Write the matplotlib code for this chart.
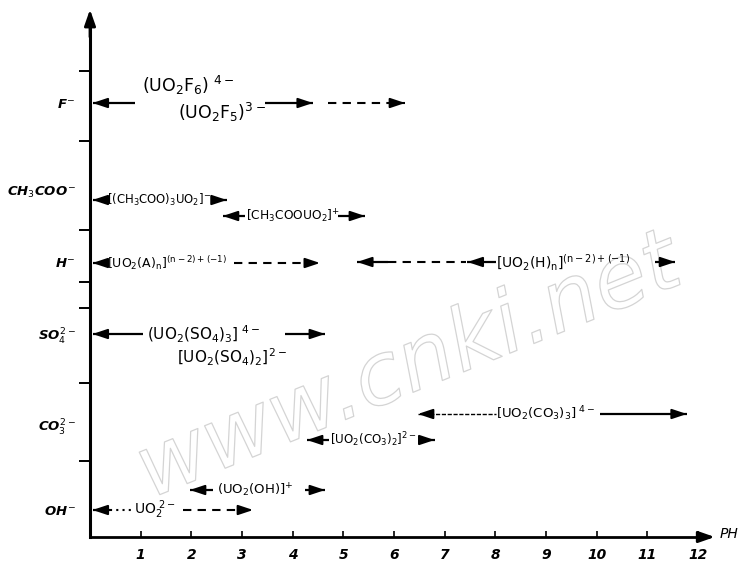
import numpy as np
import matplotlib
matplotlib.use("Agg")
import matplotlib.pyplot as plt
import matplotlib.patheffects as pe

plt.rcParams['mathtext.fontset'] = 'custom'
plt.rcParams['mathtext.rm'] = 'DejaVu Sans'
plt.rcParams['mathtext.it'] = 'DejaVu Sans:italic:bold'
plt.rcParams['mathtext.bf'] = 'DejaVu Sans:bold'

# ---------------- data ----------------
ANIONS = [r'$F^{-}$', r'$CH_{\mathit{3}}COO^{-}$', r'$H^{-}$',
          r'$SO_{\mathit{4}}^{\mathit{2-}}$', r'$CO_{\mathit{3}}^{\mathit{2-}}$', r'$OH^{-}$']
ANION_LEVEL = [8.68, 6.94, 5.50, 4.06, 2.24, 0.54]
DIVIDERS = [9.32, 7.92, 6.14, 5.10, 4.58, 3.08, 1.52]
PH_TICKS = list(range(1, 13))

SPECIES = [
    r'$\mathrm{(UO_2F_6)}^{\ 4-}$',
    r'$\mathrm{(UO_2F_5)^{3-}}$',
    r'$\mathrm{[(CH_3COO)_3UO_2]^{-}}$',
    r'$\mathrm{[CH_3COOUO_2]^{+}}$',
    r'$\mathrm{[UO_2(A)_n]^{(n-2)+(-1)}}$',
    r'$\mathrm{[UO_2(H)_n]^{(n-2)+(-1)}}$',
    r'$\mathrm{(UO_2(SO_4)_3]^{\ 4-}}$',
    r'$\mathrm{[UO_2(SO_4)_2]^{2-}}$',
    r'$\mathrm{[UO_2(CO_3)_2]^{2-}}$',
    r'$\mathrm{[UO_2(CO_3)_3]^{\ 4-}}$',
    r'$\mathrm{UO_2^{\ 2-}}$',
    r'$\mathrm{(UO_2(OH)]^{+}}$',
]
PH_LOW = [0.0, np.nan, 0.0, 2.62, 0.0, 5.27, 0.0, np.nan, 4.28, 6.47, 0.0, 1.97]
PH_HIGH = [np.nan, 6.22, 2.70, 5.43, 4.54, 11.55, np.nan, 4.64, 6.80, 11.78, 3.22, 4.64]

# ---------------- layout ----------------
LINE_Y = [8.68, 8.68, 6.74, 6.42, 5.48, 5.50, 4.06, 4.06, 1.94, 2.46, 0.54, 0.94]
LABEL_X = [1.02, 1.74, 0.34, 3.08, 0.34, 8.02, 1.12, 1.72, 4.74, 8.02, 0.86, 2.50]
LABEL_Y = [9.04, 8.50, 6.74, 6.42, 5.48, 5.50, 4.06, 3.60, 1.94, 2.46, 0.54, 0.94]
LABEL_SIZE = [12.5, 12.5, 8.4, 8.8, 9.0, 10, 11, 11, 8.6, 9.5, 10, 9.5]
PIECES = [
    [('LO', 0.89, '-', 'l')],
    [(3.45, 4.40, '-', 'r'), (4.70, 'HI', '--', 'r')],
    [('LO', 0.32, '-', 'l'), (2.45, 'HI', '-', 'r')],
    [('LO', 3.06, '-', 'l'), (4.90, 'HI', '-', 'r')],
    [('LO', 0.32, '-', 'l'), (2.85, 'HI', '--', 'r')],
    [('LO', 5.88, '-', 'l'), (5.88, 7.42, '--', None), (7.45, 8.02, '-', 'l'),
     (11.15, 'HI', '-', 'r')],
    [('LO', 1.05, '-', 'l')],
    [(3.85, 'HI', '-', 'r')],
    [('LO', 4.72, '-', 'l'), (6.55, 'HI', '-', 'r')],
    [('LO', 8.02, 'fine', 'l'), (10.07, 'HI', '-', 'r')],
    [('LO', 0.40, '-', 'l'), (0.40, 0.82, ':', None), (1.84, 'HI', '--', 'r')],
    [('LO', 2.43, '-', 'l'), (4.24, 'HI', '-', 'r')],
]

W, H = 744, 567
fig = plt.figure(figsize=(W / 100, H / 100), dpi=100)
ax = fig.add_axes([90 / W, 30 / H, 1 - 90 / W, 537 / H])
ax.set_xlim(0, 654 / 50.67)
ax.set_ylim(0, 537 / 50)
ax.patch.set_visible(False)

# watermark
fig.text(0.55, 0.35, 'www.cnki.net', fontsize=62, rotation=22, style='italic',
         color=(1, 1, 1, 0), ha='center', va='center', zorder=-5,
         path_effects=[pe.withStroke(linewidth=0.9, foreground='#d4d4d4')])

for s in ['top', 'right']:
    ax.spines[s].set_visible(False)
ax.spines['left'].set_bounds(0, 10.35)
ax.spines['bottom'].set_bounds(0, 12.2)
ax.spines['left'].set_linewidth(2.2)
ax.spines['bottom'].set_linewidth(2.0)

arw = dict(arrowstyle='-|>,head_length=0.8,head_width=0.28', color='k', lw=2,
           mutation_scale=12, shrinkA=0, shrinkB=0)
ax.annotate('', xy=(0, 10.55), xytext=(0, 10.0), arrowprops=arw, annotation_clip=False)
ax.annotate('', xy=(12.33, 0), xytext=(12.0, 0), arrowprops=arw, annotation_clip=False)
ax.text(12.42, 0.05, 'PH', fontsize=10, style='italic', ha='left', va='center')

ax.set_xticks(PH_TICKS)
ax.set_xticklabels([str(t) for t in PH_TICKS])
ax.tick_params(axis='x', direction='in', length=4, width=1.2, pad=8, labelsize=10)
for t in ax.get_xticklabels():
    t.set_fontstyle('italic')
    t.set_fontweight('bold')

ax.set_yticks(ANION_LEVEL)
ax.set_yticklabels(ANIONS)
ax.tick_params(axis='y', which='major', length=0, pad=10, labelsize=9.5)
ax.set_yticks(DIVIDERS, minor=True)
ax.tick_params(axis='y', which='minor', direction='out', length=8, width=1.4)

head = dict(arrowstyle='-|>,head_length=0.75,head_width=0.25', color='k', lw=1.4,
            mutation_scale=12, shrinkA=0, shrinkB=0)


def draw_head(x, y, d):
    ax.annotate('', xy=(x, y), xytext=(x - d * 0.2, y), arrowprops=head)


styles = {'-': dict(ls='-', lw=1.6), '--': dict(ls=(0, (4, 3)), lw=1.5),
          ':': dict(ls=(0, (1, 2)), lw=1.5), 'fine': dict(ls=(0, (3, 1.2)), lw=1.0)}

for i, sp in enumerate(SPECIES):
    y = LINE_Y[i]
    for x0, x1, st, hd in PIECES[i]:
        x0 = max(PH_LOW[i], 0.05) if x0 == 'LO' else x0
        x1 = PH_HIGH[i] if x1 == 'HI' else x1
        ax.plot([x0, x1], [y, y], color='k', solid_capstyle='butt', **styles[st])
        if hd == 'l':
            draw_head(x0, y, -1)
        elif hd == 'r':
            draw_head(x1, y, 1)
    ax.text(LABEL_X[i], LABEL_Y[i], sp, fontsize=LABEL_SIZE[i], ha='left', va='center')

fig.savefig('out.png', dpi=100)
